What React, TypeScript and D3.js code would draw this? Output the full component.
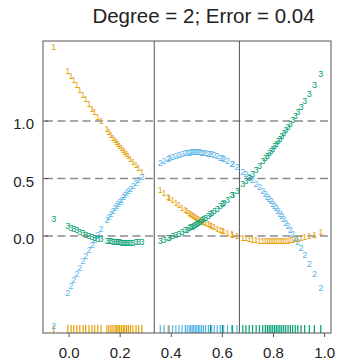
import React from 'react';
import * as d3 from 'd3';

const WIDTH = 338;
const HEIGHT = 363;

const TITLE = 'Degree = 2; Error = 0.04';
const CLASS_COLORS = ['#E69F00', '#56B4E9', '#009E73'];
const X_TICKS = [0, 0.2, 0.4, 0.6, 0.8, 1.0];
const Y_TICKS = [0, 0.5, 1.0];
const BOUNDARIES = [1 / 3, 2 / 3];

// observation positions (rug), grouped by class 1, 2, 3
const obsX = [
    -0.06, -0.005, 0.008, 0.018, 0.03, 0.042, 0.055, 0.065, 0.078, 0.09, 0.1, 0.112, 0.125, 0.148, 0.156, 0.164,
    0.172, 0.18, 0.186, 0.192, 0.198, 0.205, 0.212, 0.218, 0.225, 0.232, 0.24, 0.25, 0.262, 0.272, 0.285, 0.392,
    0.357, 0.372, 0.388, 0.405, 0.418, 0.43, 0.442, 0.455, 0.462, 0.47, 0.476, 0.482, 0.488, 0.494, 0.5, 0.506,
    0.512, 0.519, 0.526, 0.534, 0.545, 0.558, 0.568, 0.58, 0.592, 0.605, 0.62, 0.64, 0.657,
    0.553, 0.6, 0.638, 0.68, 0.692, 0.705, 0.718, 0.732, 0.745, 0.758, 0.768, 0.776, 0.783, 0.79, 0.797, 0.804,
    0.811, 0.818, 0.825, 0.832, 0.84, 0.848, 0.857, 0.866, 0.875, 0.885, 0.895, 0.908, 0.922, 0.94, 0.96, 0.985,
];
const obsClass = [
    ...Array(32).fill(1),
    ...Array(29).fill(2),
    ...Array(32).fill(3),
];

// fitted values of the three indicator regressions at each observation
const fitOrange = [
    1.649, 1.439, 1.392, 1.355, 1.313, 1.271, 1.226, 1.192, 1.149, 1.109, 1.077, 1.039, 0.998, 0.929, 0.905, 0.881,
    0.858, 0.835, 0.818, 0.802, 0.785, 0.766, 0.747, 0.731, 0.712, 0.694, 0.673, 0.648, 0.618, 0.593, 0.562, 0.336,
    0.404, 0.375, 0.344, 0.312, 0.289, 0.269, 0.249, 0.228, 0.217, 0.204, 0.195, 0.187, 0.178, 0.169, 0.161, 0.153,
    0.145, 0.136, 0.127, 0.117, 0.104, 0.089, 0.078, 0.066, 0.054, 0.042, 0.029, 0.014, 0.002,
    0.095, 0.047, 0.015, -0.012, -0.018, -0.024, -0.03, -0.034, -0.038, -0.041, -0.043, -0.044, -0.044, -0.045,
    -0.045, -0.045, -0.045, -0.044, -0.044, -0.043, -0.041, -0.04, -0.038, -0.035, -0.032, -0.028, -0.024, -0.018,
    -0.011, 0.0, 0.014, 0.033,
];
const fitBlue = [
    -0.779, -0.495, -0.432, -0.385, -0.33, -0.276, -0.219, -0.176, -0.122, -0.074, -0.035, 0.011, 0.059, 0.14,
    0.167, 0.193, 0.219, 0.244, 0.262, 0.28, 0.298, 0.318, 0.338, 0.354, 0.373, 0.391, 0.411, 0.436, 0.464, 0.486,
    0.514, 0.678,
    0.637, 0.656, 0.674, 0.69, 0.701, 0.709, 0.716, 0.722, 0.725, 0.727, 0.728, 0.729, 0.73, 0.73, 0.73, 0.729,
    0.729, 0.727, 0.725, 0.723, 0.718, 0.711, 0.704, 0.695, 0.684, 0.671, 0.653, 0.627, 0.601,
    0.714, 0.676, 0.63, 0.562, 0.54, 0.514, 0.486, 0.455, 0.424, 0.391, 0.365, 0.343, 0.324, 0.304, 0.283, 0.262,
    0.241, 0.219, 0.196, 0.174, 0.147, 0.119, 0.088, 0.056, 0.022, -0.015, -0.054, -0.106, -0.163, -0.24, -0.33,
    -0.447,
];
const fitGreen = [
    0.15, 0.09, 0.075, 0.065, 0.05, 0.036, 0.024, 0.014, 0.003, -0.006, -0.013, -0.021, -0.028, -0.04, -0.043,
    -0.045, -0.048, -0.05, -0.051, -0.053, -0.054, -0.055, -0.056, -0.056, -0.056, -0.056, -0.055, -0.055, -0.053,
    -0.05, -0.048, -0.014,
    -0.041, -0.031, -0.018, -0.002, 0.01, 0.022, 0.035, 0.05, 0.058, 0.069, 0.077, 0.084, 0.092, 0.101, 0.109,
    0.118, 0.126, 0.137, 0.148, 0.16, 0.178, 0.2, 0.218, 0.239, 0.262, 0.287, 0.318, 0.359, 0.397,
    0.191, 0.277, 0.355, 0.45, 0.478, 0.51, 0.544, 0.579, 0.614, 0.65, 0.678, 0.701, 0.72, 0.741, 0.762, 0.783,
    0.804, 0.825, 0.848, 0.869, 0.894, 0.921, 0.95, 0.979, 1.01, 1.043, 1.078, 1.124, 1.174, 1.24, 1.316, 1.414,
];

const FITS = [fitOrange, fitBlue, fitGreen];

const margin = {top: 41, right: 7, bottom: 30, left: 43};
const plotRight = WIDTH - margin.right;
const plotBottom = HEIGHT - margin.bottom;

export default function App() {
    const xScale = d3.scaleLinear().domain([-0.102, 1.025]).range([margin.left, plotRight]);
    const yScale = d3.scaleLinear().domain([-0.843, 1.696]).range([plotBottom, margin.top]);
    const fmt = d3.format('.1f');
    const font = '"Liberation Sans", Arial, sans-serif';

    return (
        <svg width={WIDTH} height={HEIGHT} style={{position: 'absolute', left: 0, top: 0, background: 'white'}}>
            <text x={203.5} y={22.5} textAnchor="middle" fontFamily={font} fontSize={20.5} fill="#222">
                {TITLE}
            </text>

            {/* reference lines */}
            {Y_TICKS.map(t => (
                <line key={`h${t}`} x1={margin.left + 2} x2={plotRight} y1={yScale(t)} y2={yScale(t)}
                      stroke="#8a8a8a" strokeWidth={1.4} strokeDasharray="8,4.5"/>
            ))}
            {BOUNDARIES.map(b => (
                <line key={`v${b}`} x1={xScale(b)} x2={xScale(b)} y1={margin.top} y2={plotBottom}
                      stroke="#555" strokeWidth={1}/>
            ))}

            {/* rug */}
            {obsX.map((x, i) => (
                <line key={`r${i}`} x1={xScale(x)} x2={xScale(x)} y1={plotBottom - 8} y2={plotBottom}
                      stroke={CLASS_COLORS[obsClass[i] - 1]} strokeWidth={1.2}/>
            ))}

            {/* fitted values drawn as class labels */}
            {FITS.map((fit, k) => (
                <g key={`f${k}`} fill={CLASS_COLORS[k]} fontFamily={font} fontSize={9} textAnchor="middle">
                    {obsX.map((x, i) => (
                        <text key={i} x={xScale(x)} y={yScale(fit[i])} dy="0.35em">{k + 1}</text>
                    ))}
                </g>
            ))}

            {/* frame */}
            <rect x={margin.left} y={margin.top} width={plotRight - margin.left} height={plotBottom - margin.top}
                  fill="none" stroke="#555" strokeWidth={1}/>

            {/* axes */}
            {X_TICKS.map(t => (
                <g key={`xt${t}`}>
                    <line x1={xScale(t)} x2={xScale(t)} y1={plotBottom} y2={plotBottom + 4} stroke="#555"/>
                    <text x={xScale(t)} y={plotBottom + 20} dy="0.35em" textAnchor="middle" fontFamily={font}
                          fontSize={15} fill="#222">{fmt(t)}</text>
                </g>
            ))}
            {Y_TICKS.map(t => (
                <g key={`yt${t}`}>
                    <line x1={margin.left} x2={margin.left + 5} y1={yScale(t)} y2={yScale(t)} stroke="#555"/>
                    <text x={34} y={yScale(t) + 3} dy="0.35em" textAnchor="end" fontFamily={font}
                          fontSize={15} fill="#222">{fmt(t)}</text>
                </g>
            ))}
        </svg>
    );
}
